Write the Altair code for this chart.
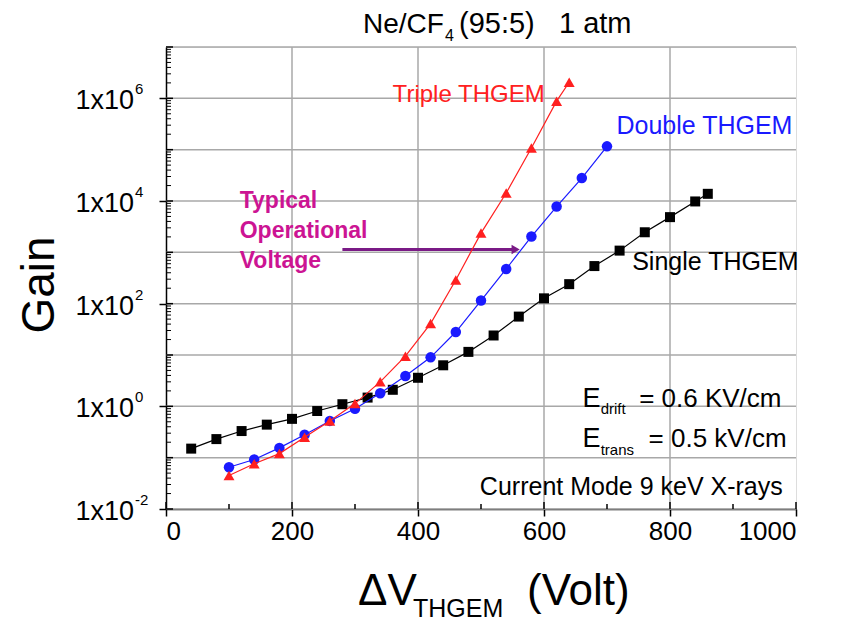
import altair as alt
import pandas as pd

FONT = "Liberation Sans"

# ---- data ----
single_v = [40, 80, 120, 160, 200, 240, 280, 320, 360, 400, 440, 480, 520, 560,
            600, 640, 680, 720, 760, 800, 840, 860]
single_gain = [0.15, 0.23, 0.33, 0.44, 0.57, 0.81, 1.1, 1.48, 2.1, 3.6, 6.3, 11.5,
               24, 56, 127, 240, 540, 1080, 2460, 4850, 9800, 13800]

double_v = [100, 140, 180, 220, 260, 300, 340, 380, 420, 460, 500, 540, 580, 620, 660, 700]
double_gain = [0.065, 0.092, 0.155, 0.28, 0.52, 0.90, 1.8, 3.9, 9.0, 28, 115, 475,
               2030, 7800, 28000, 116000]

triple_v = [100, 140, 180, 220, 260, 300, 340, 380, 420, 460, 500, 540, 580, 620, 640]
triple_gain = [0.045, 0.076, 0.12, 0.25, 0.52, 1.13, 3.0, 9.5, 41, 290, 2370, 14300,
               108000, 880000, 2060000]

x_ticks = [0, 200, 400, 600, 800, 1000]
x_minor = [100, 300, 500, 700, 900]
y_exponents = [-2, 0, 2, 4, 6]
y_decades = [-2, -1, 0, 1, 2, 3, 4, 5, 6, 7]

RED = "#ff2020"
BLUE = "#1a1aff"
BLACK = "#000000"
MAGENTA = "#cc1493"
PURPLE = "#7a1a86"

W, H = 630, 462

xs = alt.Scale(domain=[0, 1000], nice=False, zero=False)
ys = alt.Scale(type="log", domain=[0.01, 1e7], nice=False)

grid_x = [200, 400, 600, 800]
grid_y = [10.0 ** e for e in y_decades]

base_x_axis = alt.Axis(values=x_ticks, grid=False, labelFontSize=26, labelFont=FONT,
                       format="d", labelColor="black", labelPadding=2, tickSize=7,
                       tickColor="black", tickWidth=1.5, domainColor="black",
                       domainWidth=1.5, title=None)
base_y_axis = alt.Axis(values=[10.0 ** e for e in y_exponents], grid=False, labels=False,
                       tickSize=7, tickColor="black", tickWidth=1.5, domainColor="black",
                       domainWidth=1.5, title=None)

# gridlines
gx = alt.Chart(pd.DataFrame({"v": grid_x})).mark_rule(color="#a8a8a8", strokeWidth=1.5).encode(
    x=alt.X("v:Q", scale=xs, axis=base_x_axis))
gy = alt.Chart(pd.DataFrame({"g": grid_y})).mark_rule(color="#a8a8a8", strokeWidth=1.5).encode(
    y=alt.Y("g:Q", scale=ys, axis=base_y_axis))

# minor ticks (and inner halves of the major ticks)
minor_y_vals = [k * 10.0 ** e for e in range(-2, 7) for k in range(2, 10)]
my = alt.Chart(pd.DataFrame({"g": minor_y_vals})).mark_rule(color="black", strokeWidth=1).encode(
    y=alt.Y("g:Q", scale=ys), x=alt.value(0), x2=alt.value(5))
major_y_in = alt.Chart(pd.DataFrame({"g": [10.0 ** e for e in y_decades]})).mark_rule(
    color="black", strokeWidth=1.5).encode(
    y=alt.Y("g:Q", scale=ys), x=alt.value(0), x2=alt.value(7))
mx = alt.Chart(pd.DataFrame({"v": x_minor})).mark_rule(color="black", strokeWidth=1.5).encode(
    x=alt.X("v:Q", scale=xs), y=alt.value(H), y2=alt.value(H - 5))
major_x_in = alt.Chart(pd.DataFrame({"v": x_ticks})).mark_rule(color="black", strokeWidth=1.5).encode(
    x=alt.X("v:Q", scale=xs), y=alt.value(H), y2=alt.value(H - 7))


def series(v, g, color, shape, size):
    df = pd.DataFrame({"v": v, "g": g})
    line = alt.Chart(df).mark_line(color=color, strokeWidth=1.2).encode(
        x=alt.X("v:Q", scale=xs), y=alt.Y("g:Q", scale=ys))
    pts = alt.Chart(df).mark_point(color=color, fill=color, filled=True, opacity=1,
                                   shape=shape, size=size).encode(
        x=alt.X("v:Q", scale=xs), y=alt.Y("g:Q", scale=ys))
    return line + pts


s_single = series(single_v, single_gain, BLACK, "square", 100)
s_double = series(double_v, double_gain, BLUE, "circle", 110)
s_triple = series(triple_v, triple_gain, RED, "triangle-up", 120)

# y tick labels (1x10 with superscript exponent)
lab_df = pd.DataFrame({"g": [10.0 ** e for e in y_exponents],
                       "exp": [str(e) for e in y_exponents]})
ylab_main = alt.Chart(lab_df).mark_text(font=FONT, fontSize=27, align="right",
                                        baseline="middle", dy=3, color="black").encode(
    y=alt.Y("g:Q", scale=ys), x=alt.value(-32), text=alt.value("1x10"))
ylab_exp = alt.Chart(lab_df).mark_text(font=FONT, fontSize=15, align="left",
                                       baseline="middle", dy=-9, color="black").encode(
    y=alt.Y("g:Q", scale=ys), x=alt.value(-31), text="exp:N")


def txt(text, x, y, size, color="black", align="left", weight="normal", baseline="alphabetic"):
    return alt.Chart(pd.DataFrame({"t": [text]})).mark_text(
        font=FONT, fontSize=size, align=align, baseline=baseline, color=color,
        fontWeight=weight).encode(x=x, y=y, text="t:N")


def ptxt(text, px, py, size, **kw):
    return txt(text, alt.value(px), alt.value(py), size, **kw)


def dtxt(text, v, g, size, **kw):
    d = pd.DataFrame({"t": [text], "v": [v], "g": [g]})
    return alt.Chart(d).mark_text(font=FONT, fontSize=size,
                                  align=kw.get("align", "left"),
                                  baseline="alphabetic", color=kw.get("color", "black"),
                                  fontWeight=kw.get("weight", "normal")).encode(
        x=alt.X("v:Q", scale=xs), y=alt.Y("g:Q", scale=ys), text="t:N")


# titles
title_parts = [
    ptxt("Ne/CF", 197, -14, 28),
    ptxt("4", 279, -6, 16),
    ptxt("(95:5)", 293, -14, 29),
    ptxt("1 atm", 393, -14, 29),
]
gain_title = alt.Chart(pd.DataFrame({"t": ["Gain"]})).mark_text(
    font=FONT, fontSize=46, angle=270, align="center", baseline="middle", color="black").encode(
    x=alt.value(-126), y=alt.value(238), text="t:N")
xtitle_parts = [
    ptxt("\u0394V", 192, 558, 44),
    ptxt("THGEM", 247, 570, 25),
    ptxt("(Volt)", 361, 558, 44),
]

# in-plot annotations
ann = [
    dtxt("Triple THGEM", 601, 8.5e5, 24, color=RED, align="right"),
    dtxt("Double THGEM", 715, 2.0e5, 25, color=BLUE),
    dtxt("Single THGEM", 740, 457, 25, color=BLACK),
    dtxt("Typical", 117, 7420, 23, color=MAGENTA, weight="bold"),
    dtxt("Operational", 117, 1940, 23, color=MAGENTA, weight="bold"),
    dtxt("Voltage", 117, 505, 23, color=MAGENTA, weight="bold"),
    dtxt("E", 661, 0.955, 27),
    dtxt("drift", 690, 0.70, 15),
    dtxt("= 0.6 KV/cm", 977, 0.955, 26, align="right"),
    dtxt("E", 661, 0.16, 27),
    dtxt("trans", 690, 0.111, 15),
    dtxt("= 0.5 kV/cm", 985, 0.16, 26, align="right"),
    dtxt("Current Mode 9 keV X-rays", 979, 0.0185, 25, align="right"),
]

arrow_df = pd.DataFrame({"v": [280], "v2": [550], "g": [1130]})
arrow_line = alt.Chart(arrow_df).mark_rule(color=PURPLE, strokeWidth=3).encode(
    x=alt.X("v:Q", scale=xs), x2="v2:Q", y=alt.Y("g:Q", scale=ys))
arrow_head = alt.Chart(pd.DataFrame({"v": [555], "g": [1130]})).mark_point(
    shape="triangle-right", filled=True, color=PURPLE, opacity=1, size=90).encode(
    x=alt.X("v:Q", scale=xs), y=alt.Y("g:Q", scale=ys))

chart = alt.layer(
    gx, gy, my, major_y_in, mx, major_x_in, arrow_line, arrow_head,
    s_single, s_double, s_triple,
    ylab_main, ylab_exp, gain_title,
    *title_parts, *xtitle_parts, *ann,
).properties(
    width=W, height=H,
    autosize=alt.AutoSizeParams(type="none"),
    padding={"left": 166, "top": 47, "right": 55, "bottom": 114},
).configure_view(
    stroke="black", strokeWidth=1.5,
).configure(background="white")

chart.save("out.html", embed_options={"renderer": "svg", "actions": False})
